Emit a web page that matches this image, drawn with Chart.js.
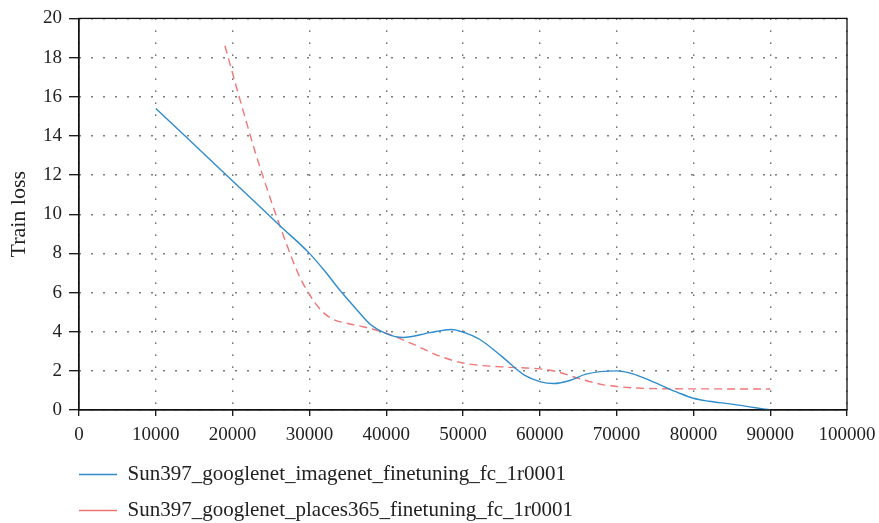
<!DOCTYPE html>
<html>
<head>
<meta charset="utf-8">
<script src="https://cdn.jsdelivr.net/npm/chart.js@4"></script>
<style>
  html, body { margin: 0; padding: 0; background: #fff; }
  #wrap { width: 879px; height: 523px; }
</style>
</head>
<body>
<div id="wrap"><canvas id="lossChart" width="879" height="523"></canvas></div>
<script>
// ------------------ DATA ------------------
const xTicks = [0, 10000, 20000, 30000, 40000, 50000, 60000, 70000, 80000, 90000, 100000];
const yTicks = [0, 2, 4, 6, 8, 10, 12, 14, 16, 18, 20];

const imagenetLabel = 'Sun397_googlenet_imagenet_finetuning_fc_1r0001';
const imagenetSteps = [10000, 20000, 26200, 30000, 32000, 34000, 36000, 38000, 40000, 42200, 45700, 48500, 50000, 52200, 55000, 58000, 60000, 61800, 64000, 66000, 70000, 72000, 75000, 78000, 80000, 82000, 85000, 90000];
const imagenetLoss  = [15.4, 11.7, 9.4, 8.0, 7.1, 6.1, 5.2, 4.35, 3.9, 3.7, 3.95, 4.11, 3.98, 3.6, 2.75, 1.78, 1.45, 1.35, 1.52, 1.83, 2.0, 1.86, 1.4, 0.89, 0.6, 0.45, 0.3, 0.0];

const placesLabel = 'Sun397_googlenet_places365_finetuning_fc_1r0001';
const placesSteps = [19000, 21000, 23000, 25000, 27000, 28500, 30000, 31500, 33000, 35000, 37000, 40000, 43500, 47000, 50000, 55000, 60000, 62000, 65000, 68000, 70000, 75000, 80000, 90000];
const placesLoss  = [18.6, 15.8, 13.1, 10.7, 8.5, 7.0, 5.9, 5.1, 4.65, 4.42, 4.25, 3.92, 3.36, 2.75, 2.4, 2.2, 2.1, 1.98, 1.62, 1.31, 1.2, 1.09, 1.08, 1.07];

// ------------------ STYLE ------------------
const FONT = "'Liberation Serif', 'DejaVu Serif', serif";
const BLUE = 'rgb(47, 141, 206)';
const RED = 'rgb(240, 118, 118)';

function toPoints(xs, ys) {
    return xs.map((x, i) => ({ x: x, y: ys[i] }));
}

// frame round the plot
const frame = {
    id: 'frame',
    afterDraw(chart) {
        const a = chart.chartArea;
        const ctx = chart.ctx;
        ctx.save();
        ctx.strokeStyle = '#111';
        ctx.lineWidth = 1.3;
        ctx.strokeRect(a.left, a.top, a.right - a.left, a.bottom - a.top);
        ctx.restore();
    }
};

// move the legend so its samples line up with the y axis
const legendShift = {
    id: 'legendShift',
    afterLayout(chart) {
        const lg = chart.legend;
        const dx = chart.chartArea.left - lg.options.labels.padding - lg.left;
        lg.left += dx;
        lg.right += dx;
    }
};

new Chart(document.getElementById('lossChart').getContext('2d'), {
    type: 'line',
    data: {
        datasets: [{
            label: imagenetLabel,
            data: toPoints(imagenetSteps, imagenetLoss),
            borderColor: BLUE,
            backgroundColor: BLUE,
            borderWidth: 1.4,
            pointRadius: 0,
            fill: false,
            cubicInterpolationMode: 'monotone'
        }, {
            label: placesLabel,
            data: toPoints(placesSteps, placesLoss),
            borderColor: RED,
            backgroundColor: RED,
            borderWidth: 1.4,
            borderDash: [8, 5],
            pointRadius: 0,
            fill: false,
            cubicInterpolationMode: 'monotone'
        }]
    },
    options: {
        responsive: false,
        animation: false,
        devicePixelRatio: 1,
        layout: { padding: { top: 18, right: 32, bottom: -8, left: 0 } },
        scales: {
            x: {
                type: 'linear',
                min: 0,
                max: 100000,
                afterBuildTicks: axis => { axis.ticks = xTicks.map(v => ({ value: v })); },
                afterFit: axis => {
                    axis.height = 39;
                    axis.paddingRight = 0;
                },
                ticks: {
                    color: '#222',
                    font: { family: FONT, size: 19 },
                    padding: 8,
                    maxRotation: 0,
                    callback: v => String(v)
                },
                grid: {
                    color: '#444',
                    lineWidth: 1.4,
                    tickColor: '#111',
                    tickLength: 6,
                    tickWidth: 1.3,
                    tickBorderDash: []
                },
                border: { display: true, color: '#111', width: 1.3, dash: [1.4, 10.6] }
            },
            y: {
                min: 0,
                max: 20,
                afterBuildTicks: axis => { axis.ticks = yTicks.map(v => ({ value: v })); },
                afterFit: axis => { axis.width = 79; },
                ticks: {
                    color: '#222',
                    font: { family: FONT, size: 19 },
                    padding: 7
                },
                grid: {
                    color: '#444',
                    lineWidth: 1.4,
                    tickColor: '#111',
                    tickLength: 10,
                    tickWidth: 1.3,
                    tickBorderDash: []
                },
                border: { display: true, color: '#111', width: 1.3, dash: [1.4, 10.6] },
                title: {
                    display: true,
                    text: 'Train loss',
                    color: '#222',
                    font: { family: FONT, size: 22 },
                    padding: { top: 6, bottom: 0 }
                }
            }
        },
        plugins: {
            legend: {
                position: 'bottom',
                align: 'start',
                labels: {
                    color: '#222',
                    font: { family: FONT, size: 21 },
                    padding: 15,
                    usePointStyle: true,
                    pointStyle: 'line',
                    pointStyleWidth: 38
                }
            },
            tooltip: { enabled: false }
        }
    },
    plugins: [frame, legendShift]
});
</script>
</body>
</html>
